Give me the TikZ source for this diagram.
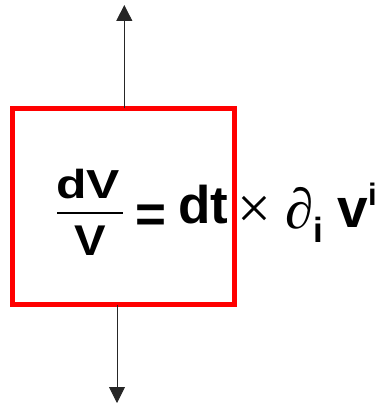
\documentclass[tikz,border=0pt]{standalone}
\usepackage{fontspec}
\setmainfont{Liberation Sans}
\newfontfamily\serifx{Liberation Serif}
\usetikzlibrary{arrows.meta}
\newcommand{\fs}[1]{\fontsize{#1}{#1}\selectfont}
\begin{document}
\begin{tikzpicture}[x=1pt,y=-1pt,
  frame/.style={draw=red,line width=4.5pt,minimum width=222pt,minimum height=196pt,inner sep=0pt,outer sep=0pt},
  flow/.style={line width=0.9pt,draw=black!85,-{Triangle[length=16pt,width=16pt]}},
  txt/.style={inner sep=0pt,outer sep=0pt,anchor=base west}]
\useasboundingbox (0,0) rectangle (381,406);
\node[frame] (box) at (123.5,206.5) {};
\coordinate (uptip) at (124.3,5);
\coordinate (dntip) at (117,403);
\draw[flow] (box.north -| uptip) -- (uptip);
\draw[flow] (box.south -| dntip) -- (dntip);
\node[txt,font=\bfseries\fs{40.5}] (num) at (56,198) {\scalebox{1.23}[1]{dV}};
\draw[line width=1.6pt] (57,213) -- (123,213);
\node[txt,font=\bfseries\fs{43}] (den) at (74.5,255) {\scalebox{1.1}[1]{V}};
\node[txt,font=\bfseries\fs{53}] (eq) at (135.5,232.5) {=};
\node[txt,font=\bfseries\fs{53}] (rhs) at (178,223) {dt};
\node[txt,font=\serifx\fs{60}] (times) at (237,228) {×};
\node[txt,font=\serifx\fs{57}] (del) at (285,228) {∂};
\node[txt,font=\bfseries\fs{35}] (sub) at (313,242) {i};
\node[txt,font=\bfseries\fs{55}] (vel) at (337.5,227) {v};
\node[txt,font=\bfseries\fs{31}] (sup) at (368,205) {i};
\end{tikzpicture}
\end{document}
